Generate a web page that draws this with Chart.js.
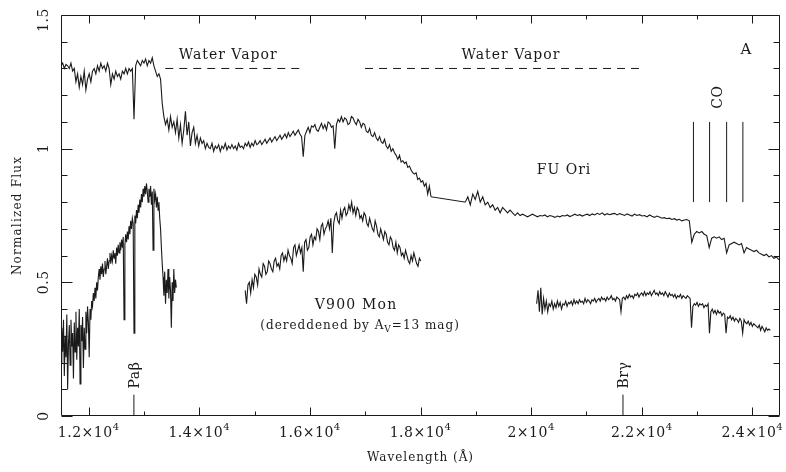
<!DOCTYPE html>
<html>
<head>
<meta charset="utf-8">
<script src="https://cdn.jsdelivr.net/npm/chart.js@4.4.0/dist/chart.umd.min.js"></script>
<style>
html,body{margin:0;padding:0;background:#fff;}
#c{display:block;}
</style>
</head>
<body>
<canvas id="c" width="786" height="472"></canvas>
<script>
const fuOriStart1 = 11500, fuOriStep1 = 30;
const fuOriFlux1 = [
  1.31,1.32,1.30,1.315,1.31,1.30,1.32,1.29,1.30,1.25,
  1.28,1.23,1.27,1.24,1.29,1.22,1.26,1.28,1.25,1.29,
  1.30,1.28,1.31,1.29,1.32,1.30,1.31,1.29,1.32,1.30,
  1.24,1.28,1.26,1.29,1.27,1.28,1.26,1.29,1.28,1.30,
  1.28,1.30,1.29,1.30,1.11,1.31,1.33,1.32,1.31,1.33,
  1.32,1.335,1.31,1.33,1.32,1.34,1.31,1.29,1.27,1.28,
  1.26,1.17,1.12,1.09,1.11,1.07,1.12,1.08,1.10,1.06,
  1.11,1.04,1.09,1.02,1.07,1.14,1.05,1.10,1.01,1.06,
  1.08,1.02,1.05,1.01,1.04,1.02,1.03,1.00,1.02,1.005,
  1.00,1.02,0.99,1.01,1.00,1.015,0.99,1.01,1.00,1.02,
  0.995,1.01,1.00,1.015,1.00,1.01,0.995,1.02,1.005,1.01,
  1.00,1.02,1.01,1.025,1.005,1.02,1.01,1.03,1.015,1.02,
  1.03,1.015,1.025,1.035,1.02,1.03,1.04,1.025,1.035,1.045,
  1.03,1.04,1.05,1.035,1.045,1.055,1.04,1.06,1.045,1.055,
  1.065,1.05,1.06,1.07,1.055,1.045,0.97,1.05,1.065,1.08,
  1.06,1.085,1.08,1.09,1.07,1.065,1.08,1.095,1.075,1.09,
  1.07,1.10,1.095,1.08,1.085,1.00,1.09,1.11,1.10,1.12,
  1.10,1.115,1.11,1.09,1.095,1.12,1.115,1.10,1.09,1.11,
  1.10,1.08,1.095,1.09,1.065,1.06,1.075,1.05,1.045,1.06,
  1.04,1.03,1.045,1.025,1.02,1.035,1.01,1.00,1.015,0.99,
  1.00,0.985,0.975,0.96,0.975,0.95,0.955,0.945,0.95,0.93,
  0.935,0.92,0.91,0.905,0.91,0.885,0.89,0.875,0.88,0.86,
  0.87,0.83,0.86,0.82
];
const fuOriStart2 = 18810, fuOriStep2 = 45;
const fuOriFlux2 = [
  0.80,0.82,0.79,0.83,0.81,0.84,0.80,0.82,0.79,0.80,
  0.78,0.79,0.77,0.78,0.76,0.78,0.77,0.76,0.77,0.76,
  0.75,0.76,0.75,0.755,0.75,0.745,0.75,0.755,0.75,0.745,
  0.75,0.748,0.752,0.745,0.75,0.747,0.743,0.748,0.745,0.75,
  0.748,0.752,0.746,0.75,0.755,0.75,0.753,0.748,0.752,0.755,
  0.75,0.756,0.752,0.758,0.754,0.76,0.752,0.757,0.753,0.756,
  0.758,0.752,0.757,0.754,0.75,0.756,0.752,0.748,0.755,0.75,
  0.753,0.748,0.75,0.745,0.752,0.747,0.743,0.748,0.744,0.74,
  0.742,0.738,0.74,0.735,0.738,0.733,0.736,0.73,0.733,0.735,
  0.73,0.65,0.68,0.69,0.685,0.69,0.68,0.675,0.63,0.665,
  0.67,0.665,0.67,0.66,0.665,0.61,0.64,0.645,0.65,0.645,
  0.64,0.645,0.61,0.63,0.625,0.62,0.615,0.62,0.61,0.605,
  0.60,0.605,0.595,0.60,0.59,0.595,0.585
];
const v900Start1 = 11500, v900Step1 = 15;
const v900Flux1 = [
  0.20,0.33,0.24,0.36,0.15,0.30,0.22,0.38,0.10,0.27,
  0.34,0.19,0.36,0.26,0.31,0.14,0.35,0.24,0.39,0.21,
  0.33,0.26,0.40,0.12,0.34,0.28,0.37,0.18,0.33,0.25,
  0.39,0.31,0.41,0.35,0.22,0.40,0.36,0.43,0.41,0.46,
  0.43,0.48,0.44,0.50,0.47,0.52,0.55,0.51,0.56,0.53,
  0.57,0.52,0.55,0.58,0.53,0.56,0.59,0.55,0.58,0.61,
  0.57,0.60,0.58,0.62,0.59,0.61,0.57,0.63,0.60,0.64,
  0.61,0.65,0.62,0.66,0.63,0.67,0.36,0.64,0.68,0.65,
  0.69,0.66,0.71,0.68,0.73,0.70,0.74,0.72,0.31,0.75,
  0.72,0.77,0.74,0.79,0.76,0.81,0.78,0.83,0.80,0.85,
  0.82,0.86,0.83,0.87,0.84,0.80,0.85,0.82,0.86,0.79,
  0.84,0.62,0.85,0.81,0.83,0.78,0.82,0.77,0.80,0.74,
  0.70,0.63,0.57,0.52,0.45,0.54,0.42,0.51,0.46,0.55,
  0.44,0.52,0.47,0.33,0.50,0.43,0.55,0.46,0.51,0.48
];
const v900Start2 = 14830, v900Step2 = 25;
const v900Flux2 = [
  0.47,0.42,0.49,0.50,0.46,0.51,0.48,0.53,0.52,0.49,
  0.55,0.53,0.52,0.57,0.56,0.53,0.54,0.58,0.57,0.55,
  0.54,0.58,0.59,0.56,0.57,0.55,0.60,0.61,0.58,0.60,
  0.58,0.62,0.60,0.59,0.57,0.63,0.64,0.60,0.62,0.64,
  0.61,0.63,0.54,0.65,0.66,0.62,0.63,0.67,0.68,0.64,
  0.67,0.66,0.70,0.69,0.66,0.71,0.72,0.68,0.70,0.71,
  0.73,0.70,0.74,0.61,0.72,0.75,0.76,0.73,0.72,0.77,
  0.74,0.77,0.78,0.75,0.76,0.79,0.77,0.80,0.76,0.78,
  0.75,0.78,0.77,0.74,0.75,0.73,0.76,0.75,0.72,0.71,
  0.74,0.72,0.70,0.69,0.73,0.71,0.68,0.67,0.70,0.68,
  0.66,0.69,0.68,0.65,0.64,0.67,0.66,0.63,0.62,0.65,
  0.61,0.64,0.63,0.60,0.61,0.59,0.62,0.60,0.58,0.57,
  0.60,0.58,0.61,0.59,0.57,0.56,0.59,0.58
];
const v900Start3 = 20100, v900Step3 = 25;
const v900Flux3 = [
  0.42,0.47,0.39,0.48,0.38,0.44,0.40,0.43,0.39,0.42,
  0.41,0.43,0.40,0.42,0.405,0.43,0.41,0.425,0.40,0.42,
  0.415,0.43,0.41,0.425,0.42,0.43,0.415,0.435,0.42,0.43,
  0.42,0.435,0.425,0.43,0.42,0.44,0.425,0.435,0.43,0.42,
  0.435,0.43,0.44,0.425,0.435,0.44,0.43,0.445,0.435,0.44,
  0.43,0.445,0.435,0.44,0.45,0.435,0.44,0.43,0.445,0.44,
  0.435,0.39,0.44,0.445,0.435,0.45,0.44,0.455,0.445,0.45,
  0.44,0.455,0.45,0.46,0.445,0.455,0.46,0.45,0.465,0.45,
  0.46,0.455,0.465,0.45,0.46,0.47,0.455,0.46,0.45,0.465,
  0.455,0.46,0.45,0.465,0.455,0.445,0.46,0.45,0.455,0.445,
  0.455,0.44,0.45,0.445,0.455,0.44,0.45,0.445,0.44,0.45,
  0.445,0.44,0.33,0.41,0.42,0.415,0.425,0.41,0.42,0.415,
  0.42,0.405,0.415,0.41,0.42,0.31,0.39,0.40,0.385,0.395,
  0.38,0.395,0.385,0.39,0.375,0.385,0.38,0.31,0.37,0.365,
  0.375,0.36,0.37,0.355,0.365,0.36,0.35,0.365,0.355,0.31,
  0.36,0.35,0.345,0.355,0.34,0.35,0.335,0.345,0.34,0.335,
  0.33,0.34,0.32,0.335,0.325,0.315,0.33,0.32,0.325,0.32
];

// annotation values
const waterVaporStart = [13385, 16997];
const waterVaporEnd = [15825, 21966];
const waterVaporLevel = 1.30;
const coBandheads = [22935, 23227, 23535, 23829];
const coLineRange = [0.80, 1.10];
const lineNames = ['Pa\u03B2', 'Br\u03B3'];
const lineWaves = [12818, 21661];
const lineMarkRange = [0, 0.08];

// axes
const xMin = 11500, xMax = 24500, yMin = 0, yMax = 1.5;
const xTickValues = [12000, 14000, 16000, 18000, 20000, 22000, 24000];
const xTickMantissa = ['1.2', '1.4', '1.6', '1.8', '2', '2.2', '2.4'];
const xMinorTickValues = [13000, 15000, 17000, 19000, 21000, 23000];
const yTickValues = [0, 0.5, 1, 1.5];
const yTickLabels = ['0', '0.5', '1', '1.5'];
const yMinorTickValues = [0.1,0.2,0.3,0.4,0.6,0.7,0.8,0.9,1.1,1.2,1.3,1.4];

const INK = '#1a1a1a';
const SERIF = '"DejaVu Serif", serif';

function toPoints(start, step, flux){
  return flux.map((f, i) => ({x: start + i*step, y: f}));
}
function specSet(start, step, flux){
  return {data: toPoints(start, step, flux), borderColor: INK, borderWidth: 1.1,
          pointRadius: 0, tension: 0, fill: false};
}
function segSet(x0, y0, x1, y1, dash){
  return {data: [{x:x0,y:y0},{x:x1,y:y1}], borderColor: INK, borderWidth: 1,
          borderDash: dash || [], pointRadius: 0, tension: 0, fill: false};
}

const datasets = [
  specSet(fuOriStart1, fuOriStep1, fuOriFlux1),
  specSet(fuOriStart2, fuOriStep2, fuOriFlux2),
  // the gap in FU Ori is bridged by a straight line
  segSet(fuOriStart1 + (fuOriFlux1.length-1)*fuOriStep1, fuOriFlux1[fuOriFlux1.length-1],
         fuOriStart2, fuOriFlux2[0]),
  specSet(v900Start1, v900Step1, v900Flux1),
  specSet(v900Start2, v900Step2, v900Flux2),
  specSet(v900Start3, v900Step3, v900Flux3)
];
waterVaporStart.forEach((s, i) => {
  datasets.push(segSet(s, waterVaporLevel, waterVaporEnd[i], waterVaporLevel, [8, 6]));
});
coBandheads.forEach(w => {
  datasets.push(segSet(w, coLineRange[0], w, coLineRange[1]));
});
lineWaves.forEach(w => {
  datasets.push(segSet(w, lineMarkRange[0], w, lineMarkRange[1]));
});

// frame, inward ticks, tick labels, titles and text notes
const decor = {
  id: 'decor',
  afterDraw(chart){
    const {ctx, chartArea: a, scales: {x, y}} = chart;
    const L = Math.round(a.left) + 0.5, R = Math.round(a.right) - 0.5;
    const T = Math.round(a.top) + 0.5, B = Math.round(a.bottom) - 0.5;
    ctx.save();
    ctx.strokeStyle = INK;
    ctx.lineWidth = 1;
    ctx.beginPath();
    ctx.rect(L, T, R - L, B - T);
    const xt = (v, len) => {
      const p = Math.round(x.getPixelForValue(v)) + 0.5;
      ctx.moveTo(p, B); ctx.lineTo(p, B - len);
      ctx.moveTo(p, T); ctx.lineTo(p, T + len);
    };
    const yt = (v, len) => {
      const p = Math.round(y.getPixelForValue(v)) + 0.5;
      ctx.moveTo(L, p); ctx.lineTo(L + len, p);
      ctx.moveTo(R, p); ctx.lineTo(R - len, p);
    };
    xTickValues.forEach(v => xt(v, 8));
    xMinorTickValues.forEach(v => xt(v, 4));
    yTickValues.forEach(v => yt(v, 11));
    yMinorTickValues.forEach(v => yt(v, 6));
    ctx.stroke();

    ctx.fillStyle = INK;
    // x tick labels with superscript
    xTickValues.forEach((v, i) => {
      const base = xTickMantissa[i] + '\u00D710';
      ctx.letterSpacing = '0.5px';
      ctx.font = '14px ' + SERIF;
      const wb = ctx.measureText(base).width;
      ctx.font = '10px ' + SERIF;
      const ws = ctx.measureText('4').width;
      const x0 = x.getPixelForValue(v) - (wb + ws) / 2;
      ctx.textAlign = 'left';
      ctx.textBaseline = 'alphabetic';
      ctx.font = '14px ' + SERIF;
      ctx.fillText(base, x0, 437);
      ctx.font = '10px ' + SERIF;
      ctx.fillText('4', x0 + wb, 430);
    });
    // rotated text helper
    const rot = (str, px, py, font, spacing) => {
      ctx.save();
      ctx.translate(px, py);
      ctx.rotate(-Math.PI / 2);
      ctx.font = font;
      ctx.letterSpacing = spacing || '0px';
      ctx.textAlign = 'center';
      ctx.textBaseline = 'middle';
      ctx.fillText(str, 0, 0);
      ctx.restore();
    };
    yTickValues.forEach((v, i) => {
      let p = y.getPixelForValue(v);
      if (v === yMax) p += 5;
      rot(yTickLabels[i], 44, p, '14px ' + SERIF, '0.5px');
    });
    rot('Normalized Flux', 18, (a.top + a.bottom) / 2, '12px ' + SERIF, '1.2px');
    ctx.font = '12px ' + SERIF;
    ctx.letterSpacing = '1px';
    ctx.textAlign = 'center';
    ctx.textBaseline = 'middle';
    ctx.fillText('Wavelength (\u00C5)', (a.left + a.right) / 2, 458);

    // text notes placed in data units
    const note = (str, xv, yv, size, spacing) => {
      ctx.font = size + 'px ' + SERIF;
      ctx.letterSpacing = spacing;
      ctx.textAlign = 'center';
      ctx.textBaseline = 'middle';
      ctx.fillText(str, x.getPixelForValue(xv), y.getPixelForValue(yv));
    };
    note('Water Vapor', 14523, 1.35, 14, '1px');
    note('Water Vapor', 19636, 1.35, 14, '1px');
    note('A', 23884, 1.37, 15, '0px');
    note('FU Ori', 20595, 0.92, 14, '1px');
    note('V900 Mon', 16836, 0.415, 14, '1.2px');

    // dereddened note with subscript V
    ctx.letterSpacing = '1px';
    ctx.font = '12px ' + SERIF;
    const p1 = '(dereddened by A', p3 = '=13 mag)';
    const w1 = ctx.measureText(p1).width, w3 = ctx.measureText(p3).width;
    ctx.font = '9px ' + SERIF;
    const w2 = ctx.measureText('V').width;
    const dx = x.getPixelForValue(16908) - (w1 + w2 + w3) / 2;
    const dy = y.getPixelForValue(0.337);
    ctx.textAlign = 'left';
    ctx.textBaseline = 'middle';
    ctx.font = '12px ' + SERIF;
    ctx.fillText(p1, dx, dy);
    ctx.font = '9px ' + SERIF;
    ctx.fillText('V', dx + w1, dy + 4);
    ctx.font = '12px ' + SERIF;
    ctx.fillText(p3, dx + w1 + w2, dy);

    // rotated line identifications
    rot('CO', x.getPixelForValue(23378), y.getPixelForValue(1.193), '14px ' + SERIF, '0.5px');
    lineNames.forEach((n, i) => {
      rot(n, x.getPixelForValue(lineWaves[i]) + 1, y.getPixelForValue(0.153), '14px ' + SERIF, '0.5px');
    });
    ctx.restore();
  }
};

new Chart(document.getElementById('c'), {
  type: 'line',
  data: {datasets: datasets},
  options: {
    responsive: false,
    animation: false,
    events: [],
    layout: {padding: {left: 0, right: 6, top: 15, bottom: 0}},
    plugins: {legend: {display: false}, tooltip: {enabled: false}},
    scales: {
      x: {
        type: 'linear', min: xMin, max: xMax,
        grid: {display: false}, border: {display: false},
        ticks: {display: false},
        afterFit(s){ s.height = 56; }
      },
      y: {
        type: 'linear', min: yMin, max: yMax,
        grid: {display: false}, border: {display: false},
        ticks: {display: false},
        afterFit(s){ s.width = 61; }
      }
    }
  },
  plugins: [decor]
});
</script>
</body>
</html>
